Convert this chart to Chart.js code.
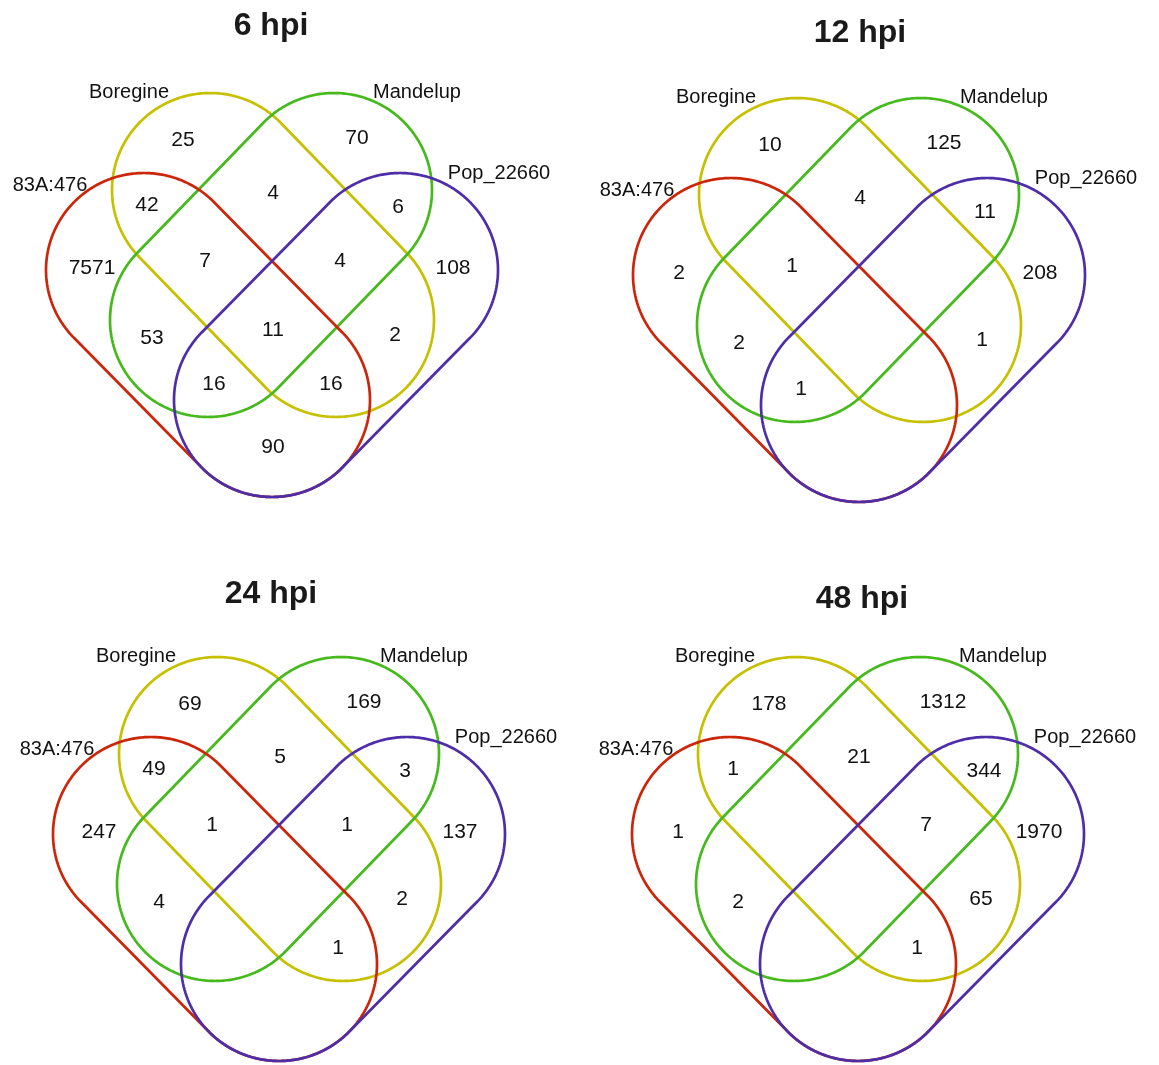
<!DOCTYPE html>
<html>
<head>
<meta charset="utf-8">
<title>Shared DEGs per time point</title>
<script src="https://cdn.jsdelivr.net/npm/chart.js@4.4.0/dist/chart.umd.min.js"></script>
<style>
  body { margin: 0; background: #fff; }
  #figure { position: relative; width: 1159px; height: 1065px; overflow: hidden; background: #fff; }
  #figure canvas { position: absolute; }
</style>
</head>
<body>
<div id="figure">
  <canvas id="venn6"></canvas>
  <canvas id="venn12"></canvas>
  <canvas id="venn24"></canvas>
  <canvas id="venn48"></canvas>
</div>
<script>
// sets: A = 83A:476, B = Boregine, C = Mandelup, D = Pop_22660
const setNames = ['83A:476', 'Boregine', 'Mandelup', 'Pop_22660'];
const timePoints = ['6 hpi', '12 hpi', '24 hpi', '48 hpi'];
const regions = ['A', 'B', 'C', 'D', 'AB', 'BC', 'CD', 'ABC', 'BCD', 'AC', 'ABCD', 'BD', 'ACD', 'ABD', 'AD'];

// counts per region, null where the region is left blank
const counts6h  = [7571, 25, 70, 108, 42, 4, 6, 7, 4, 53, 11, 2, 16, 16, 90];
const counts12h = [2, 10, 125, 208, null, 4, 11, 1, null, 2, null, 1, 1, null, null];
const counts24h = [247, 69, 169, 137, 49, 5, 3, 1, 1, 4, null, 2, null, 1, null];
const counts48h = [1, 178, 1312, 1970, 1, 21, 344, null, 7, 2, null, 65, null, 1, null];
const allCounts = [counts6h, counts12h, counts24h, counts48h];

// --- layout (diagram units: x from centre, y down from the top of the shapes) ---
const setColors = ['#cc260a', '#c6c000', '#46ba1c', '#4e2ea8'];
const drawOrder = [1, 3, 2, 0];          // purple ends up on top
const capRx = 98, capRy = 97;
// each set is a stadium: two cap centres joined by straight sides
const setCaps = [
  [[-128, 177], [0, 307]],
  [[-62, 97], [64, 227]],
  [[62, 97], [-64, 227]],
  [[128, 177], [0, 307]]
];
const regionPos = {
  A: [-180, 175], B: [-89, 47], C: [85, 45], D: [181, 175],
  AB: [-125, 112], BC: [1, 100], CD: [126, 114],
  ABC: [-67, 168], BCD: [68, 168], AC: [-120, 245], ABCD: [1, 237],
  BD: [123, 242], ACD: [-58, 291], ABD: [59, 291], AD: [1, 354]
};
const setLabelPos = [[-222, 92], [-143, -1], [145, -1], [227, 80]];
const panelOrigin = [[272, 93], [859, 98], [279, 657], [858, 657]];
const titleOffset = [[-1, -67], [1, -65], [-8, -63], [4, -58]];
const halfW = 226, shapeH = 404;
const font = '"Liberation Sans", Arial, Helvetica, sans-serif';

function stadium(caps) {
  const [p, q] = caps;
  const phi = Math.atan2(q[1] - p[1], q[0] - p[0]);
  const n = 90;
  const pts = [];
  for (let i = 0; i <= n; i++) {
    const t = phi - Math.PI / 2 + Math.PI * i / n;
    pts.push({x: q[0] + capRx * Math.cos(t), y: q[1] + capRy * Math.sin(t)});
  }
  for (let i = 0; i <= n; i++) {
    const t = phi + Math.PI / 2 + Math.PI * i / n;
    pts.push({x: p[0] + capRx * Math.cos(t), y: p[1] + capRy * Math.sin(t)});
  }
  pts.push(pts[0]);
  return pts;
}

// numbers, set names and panel title, placed through the chart scales
function vennText(idx) {
  return {
    id: 'vennText' + idx,
    afterDatasetsDraw(chart) {
      const {ctx} = chart;
      const sx = chart.scales.x, sy = chart.scales.y;
      const px = (v) => sx.getPixelForValue(v);
      const py = (v) => sy.getPixelForValue(v);
      ctx.save();
      ctx.fillStyle = '#111';
      ctx.textAlign = 'center';
      ctx.textBaseline = 'middle';
      ctx.font = '21px ' + font;
      regions.forEach((r, i) => {
        const v = allCounts[idx][i];
        if (v === null) return;
        ctx.fillText(String(v), px(regionPos[r][0]), py(regionPos[r][1]));
      });
      ctx.font = '20px ' + font;
      setNames.forEach((name, k) => {
        ctx.fillText(name, px(setLabelPos[k][0]), py(setLabelPos[k][1]));
      });
      ctx.fillStyle = '#1a1a1a';
      ctx.font = 'bold 32px ' + font;
      ctx.fillText(timePoints[idx], px(titleOffset[idx][0]), py(titleOffset[idx][1]));
      ctx.restore();
    }
  };
}

['venn6', 'venn12', 'venn24', 'venn48'].forEach((id, idx) => {
  const canvas = document.getElementById(id);
  const [cx, top] = panelOrigin[idx];
  const row = idx < 2 ? 0 : 1;
  const canvasTop = row * 560;
  const canvasH = row === 0 ? 520 : 505;
  const canvasW = 580;
  canvas.width = canvasW;
  canvas.height = canvasH;
  canvas.style.left = (cx - canvasW / 2) + 'px';
  canvas.style.top = canvasTop + 'px';
  const padTop = top - canvasTop;

  new Chart(canvas, {
    type: 'scatter',
    data: {
      datasets: setCaps.map((caps, k) => ({
        label: setNames[k],
        data: stadium(caps),
        showLine: true,
        borderColor: setColors[k],
        backgroundColor: setColors[k],
        borderWidth: 2.7,
        borderJoinStyle: 'round',
        borderCapStyle: 'round',
        pointRadius: 0,
        pointHoverRadius: 0,
        fill: false,
        // a tiny tension keeps Chart.js off its fast path, which would
        // collapse points sharing a pixel column into vertical ticks
        tension: 0.01,
        clip: false,
        order: drawOrder[k]
      }))
    },
    options: {
      responsive: false,
      animation: false,
      events: [],
      layout: {
        padding: {
          left: canvasW / 2 - halfW,
          right: canvasW / 2 - halfW,
          top: padTop,
          bottom: canvasH - padTop - shapeH
        }
      },
      scales: {
        x: {type: 'linear', min: -halfW, max: halfW, display: false},
        y: {type: 'linear', min: 0, max: shapeH, reverse: true, display: false}
      },
      plugins: {
        legend: {display: false},
        tooltip: {enabled: false},
        title: {display: false}
      }
    },
    plugins: [vennText(idx)]
  });
});
</script>
</body>
</html>
